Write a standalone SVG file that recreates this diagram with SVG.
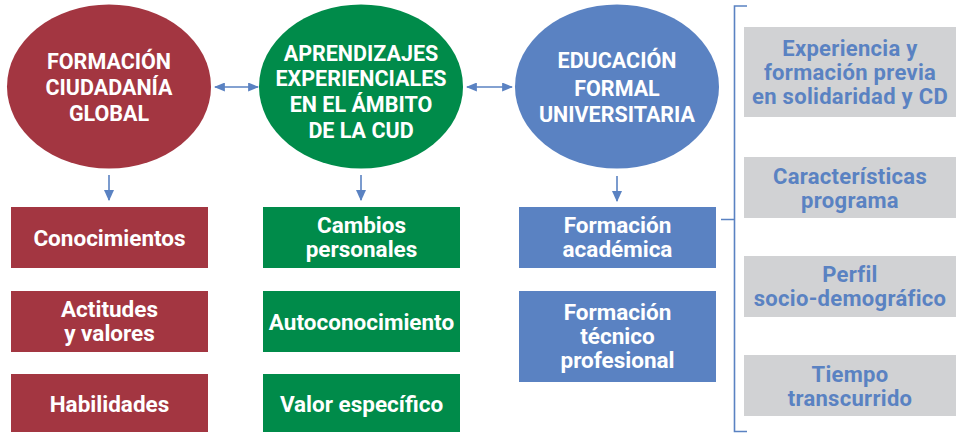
<svg xmlns="http://www.w3.org/2000/svg" width="956" height="433" viewBox="0 0 956 433">
<defs>
<style>
.t{font-family:Roboto,"Liberation Sans",Arial,sans-serif;font-weight:bold;text-anchor:middle;}
.w{fill:#ffffff;}
.e{font-size:21.5px;}
.b{font-size:22.5px;}
.g{font-size:22px;letter-spacing:0.3px;fill:#5a82c2;}
.red{fill:#a33641;}
.grn{fill:#008b4a;}
.blu{fill:#5a82c2;}
.gry{fill:#d1d2d4;}
.con{stroke:#5a82c2;stroke-width:1.6;fill:none;}
</style>
<marker id="ah" viewBox="0 0 10 10" refX="9" refY="5" markerWidth="11" markerHeight="9" markerUnits="userSpaceOnUse" orient="auto-start-reverse" preserveAspectRatio="none">
<path d="M0,0 L10,5 L0,10 z" fill="#5a82c2"/>
</marker>
<marker id="ad" viewBox="0 0 10 10" refX="9" refY="5" markerWidth="11" markerHeight="10" markerUnits="userSpaceOnUse" orient="auto" preserveAspectRatio="none">
<path d="M0,0 L10,5 L0,10 z" fill="#5a82c2"/>
</marker>
</defs>
<rect width="956" height="433" fill="#ffffff"/>

<g id="connectors">
<line class="con" x1="215" y1="87" x2="258" y2="87" marker-start="url(#ah)" marker-end="url(#ah)"/>
<line class="con" x1="467" y1="87" x2="512" y2="87" marker-start="url(#ah)" marker-end="url(#ah)"/>
<line class="con" x1="109" y1="175" x2="109" y2="200" marker-end="url(#ad)"/>
<line class="con" x1="361" y1="175" x2="361" y2="200" marker-end="url(#ad)"/>
<line class="con" x1="617" y1="176" x2="617" y2="201" marker-end="url(#ad)"/>
<path class="con" d="M747,6 H734.5 V431.5 H747 M721,219.5 H734.5"/>
</g>

<g id="n-fcg">
<ellipse class="red" cx="109" cy="86.5" rx="102" ry="82"/>
<text class="t w e" x="109" y="69">FORMACIÓN</text>
<text class="t w e" x="109" y="95">CIUDADANÍA</text>
<text class="t w e" x="109" y="121">GLOBAL</text>
</g>
<g id="n-aec">
<ellipse class="grn" cx="361" cy="86.5" rx="102" ry="82"/>
<text class="t w e" x="361" y="61">APRENDIZAJES</text>
<text class="t w e" x="361" y="86">EXPERIENCIALES</text>
<text class="t w e" x="361" y="112">EN EL ÁMBITO</text>
<text class="t w e" x="361" y="138">DE LA CUD</text>
</g>
<g id="n-efu">
<ellipse class="blu" cx="617" cy="86.5" rx="102" ry="82"/>
<text class="t w e" x="617" y="68">EDUCACIÓN</text>
<text class="t w e" x="617" y="96">FORMAL</text>
<text class="t w e" x="617" y="122">UNIVERSITARIA</text>
</g>

<g id="n-conocimientos">
<rect class="red" x="11" y="207" width="197" height="61"/>
<text class="t w b" x="109.5" y="245.5">Conocimientos</text>
</g>
<g id="n-actitudes">
<rect class="red" x="11" y="291" width="197" height="61"/>
<text class="t w b" x="109.5" y="317">Actitudes</text>
<text class="t w b" x="109.5" y="341">y valores</text>
</g>
<g id="n-habilidades">
<rect class="red" x="11" y="374" width="197" height="58"/>
<text class="t w b" x="109.5" y="412">Habilidades</text>
</g>

<g id="n-cambios">
<rect class="grn" x="263" y="207" width="197" height="61"/>
<text class="t w b" x="361.5" y="233">Cambios</text>
<text class="t w b" x="361.5" y="257">personales</text>
</g>
<g id="n-autoconocimiento">
<rect class="grn" x="263" y="291" width="197" height="61"/>
<text class="t w b" x="361.5" y="329.5">Autoconocimiento</text>
</g>
<g id="n-valor">
<rect class="grn" x="263" y="374" width="197" height="58"/>
<text class="t w b" x="361.5" y="412">Valor específico</text>
</g>

<g id="n-academica">
<rect class="blu" x="519" y="207" width="197" height="61"/>
<text class="t w b" x="617.5" y="233">Formación</text>
<text class="t w b" x="617.5" y="257">académica</text>
</g>
<g id="n-tecnico">
<rect class="blu" x="519" y="291" width="197" height="91"/>
<text class="t w b" x="617.5" y="320">Formación</text>
<text class="t w b" x="617.5" y="344">técnico</text>
<text class="t w b" x="617.5" y="368">profesional</text>
</g>

<g id="n-experiencia">
<rect class="gry" x="744" y="27" width="212" height="90"/>
<text class="t g" x="850" y="56">Experiencia y</text>
<text class="t g" x="850" y="80">formación previa</text>
<text class="t g" x="850" y="104">en solidaridad y CD</text>
</g>
<g id="n-caracteristicas">
<rect class="gry" x="744" y="157" width="212" height="61"/>
<text class="t g" x="850" y="184">Características</text>
<text class="t g" x="850" y="208">programa</text>
</g>
<g id="n-perfil">
<rect class="gry" x="744" y="256" width="212" height="61"/>
<text class="t g" x="850" y="282">Perfil</text>
<text class="t g" x="850" y="306">socio-demográfico</text>
</g>
<g id="n-tiempo">
<rect class="gry" x="744" y="355" width="212" height="61"/>
<text class="t g" x="850" y="382">Tiempo</text>
<text class="t g" x="850" y="406">transcurrido</text>
</g>
</svg>
